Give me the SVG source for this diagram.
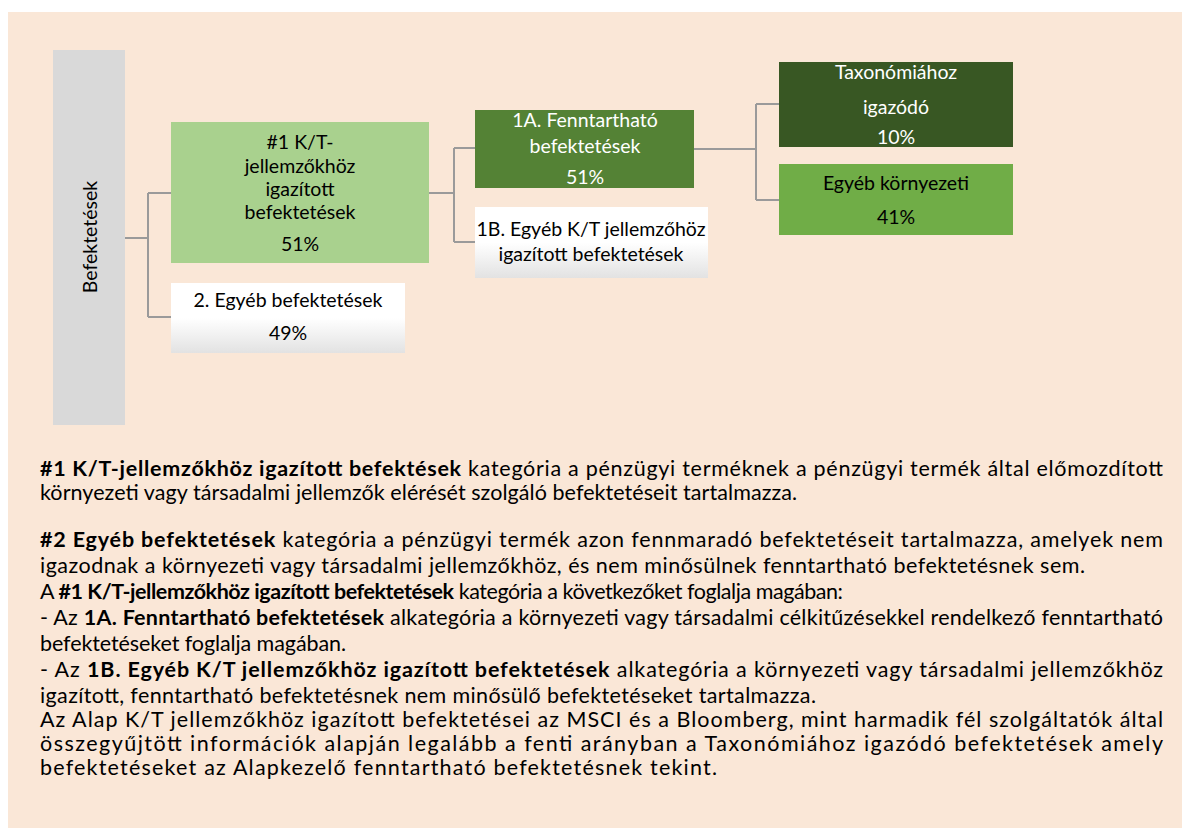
<svg xmlns="http://www.w3.org/2000/svg" width="1182" height="828" viewBox="0 0 1182 828">
<defs>
<linearGradient id="wg" x1="0" y1="0" x2="0" y2="1">
<stop offset="0" stop-color="#ffffff"/>
<stop offset="0.5" stop-color="#ffffff"/>
<stop offset="1" stop-color="#e2e2e2"/>
</linearGradient>
<style>
.lbl{font-family:Lato,"Liberation Sans",sans-serif;font-size:19.5px;text-anchor:middle;fill:#000}
.wt{fill:#ffffff}
.body{font-family:Lato,"Liberation Sans",sans-serif;font-size:21.5px;fill:#000}
.b{font-weight:bold}
.con{fill:none;stroke:#9a9a9a;stroke-width:2}
</style>
</defs>
<rect x="8" y="12" width="1174" height="816" fill="#fae7d7"/>

<g id="connectors">
<path class="con" d="M125 238 H148 M148 193 V317 M148 193 H171 M148 317 H171"/>
<path class="con" d="M429 193 H454 M454 148 V242 M454 148 H475 M454 242 H475"/>
<path class="con" d="M694 149 H756 M756 104 V200 M756 104 H779 M756 200 H779"/>
</g>

<g id="n-befektetesek">
<rect x="53" y="50" width="72" height="375" fill="#d9d9d9"/>
<text class="lbl" transform="translate(97,237) rotate(-90)">Befektetések</text>
</g>

<g id="n-1">
<rect x="171" y="122" width="258" height="141" fill="#a9d18e"/>
<text class="lbl" x="300" y="149">#1 K/T-</text>
<text class="lbl" x="300" y="173">jellemzőkhöz</text>
<text class="lbl" x="300" y="196">igazított</text>
<text class="lbl" x="300" y="219">befektetések</text>
<text class="lbl" x="300" y="251">51%</text>
</g>

<g id="n-2">
<rect x="171" y="283" width="234" height="70" fill="url(#wg)"/>
<text class="lbl" x="288" y="307">2. Egyéb befektetések</text>
<text class="lbl" x="288" y="340">49%</text>
</g>

<g id="n-1a">
<rect x="475" y="110" width="219" height="78" fill="#548235"/>
<text class="lbl wt" x="585" y="127">1A. Fenntartható</text>
<text class="lbl wt" x="585" y="153">befektetések</text>
<text class="lbl wt" x="585" y="184">51%</text>
</g>

<g id="n-1b">
<rect x="475" y="207" width="233" height="71" fill="url(#wg)"/>
<text class="lbl" x="591" y="236">1B. Egyéb K/T jellemzőhöz</text>
<text class="lbl" x="591" y="261">igazított befektetések</text>
</g>

<g id="n-taxonomia">
<rect x="779" y="62" width="234" height="85" fill="#385723"/>
<text class="lbl wt" x="896" y="79">Taxonómiához</text>
<text class="lbl wt" x="896" y="114">igazódó</text>
<text class="lbl wt" x="896" y="144">10%</text>
</g>

<g id="n-egyeb-kornyezeti">
<rect x="779" y="164" width="234" height="71" fill="#70ad47"/>
<text class="lbl" x="896" y="190">Egyéb környezeti</text>
<text class="lbl" x="896" y="224">41%</text>
</g>

<g id="legend-text">
<text class="body" x="40" y="476" textLength="1123" lengthAdjust="spacing"><tspan class="b">#1 K/T-jellemzőkhöz igazított befektések</tspan> kategória a pénzügyi terméknek a pénzügyi termék által előmozdított</text>
<text class="body" x="40" y="500" textLength="757" lengthAdjust="spacing">környezeti vagy társadalmi jellemzők elérését szolgáló befektetéseit tartalmazza.</text>
<text class="body" x="40" y="547" textLength="1123" lengthAdjust="spacing"><tspan class="b">#2 Egyéb befektetések</tspan> kategória a pénzügyi termék azon fennmaradó befektetéseit tartalmazza, amelyek nem</text>
<text class="body" x="40" y="573" textLength="1045" lengthAdjust="spacing">igazodnak a környezeti vagy társadalmi jellemzőkhöz, és nem minősülnek fenntartható befektetésnek sem.</text>
<text class="body" x="40" y="599" textLength="803" lengthAdjust="spacing">A <tspan class="b">#1 K/T-jellemzőkhöz igazított befektetések</tspan> kategória a következőket foglalja magában:</text>
<text class="body" x="40" y="625" textLength="1123" lengthAdjust="spacing">- Az <tspan class="b">1A. Fenntartható befektetések</tspan> alkategória a környezeti vagy társadalmi célkitűzésekkel rendelkező fenntartható</text>
<text class="body" x="40" y="651" textLength="306" lengthAdjust="spacing">befektetéseket foglalja magában.</text>
<text class="body" x="40" y="677" textLength="1123" lengthAdjust="spacing">- Az <tspan class="b">1B. Egyéb K/T jellemzőkhöz igazított befektetések</tspan> alkategória a környezeti vagy társadalmi jellemzőkhöz</text>
<text class="body" x="40" y="703" textLength="776" lengthAdjust="spacing">igazított, fenntartható befektetésnek nem minősülő befektetéseket tartalmazza.</text>
<text class="body" x="40" y="727" textLength="1123" lengthAdjust="spacing">Az Alap K/T jellemzőkhöz igazított befektetései az MSCI és a Bloomberg, mint harmadik fél szolgáltatók által</text>
<text class="body" x="40" y="751" textLength="1123" lengthAdjust="spacing">összegyűjtött információk alapján legalább a fenti arányban a Taxonómiához igazódó befektetések amely</text>
<text class="body" x="40" y="775" textLength="677" lengthAdjust="spacing">befektetéseket az Alapkezelő fenntartható befektetésnek tekint.</text>
</g>
</svg>
